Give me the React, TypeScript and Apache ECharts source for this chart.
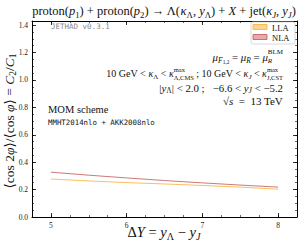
import React, { useEffect, useRef } from "react";
import * as echarts from "echarts";

const xValues = [5, 5.5, 6, 6.5, 7, 7.5, 8];
const nlaLow = [0.327, 0.305, 0.285, 0.266, 0.249, 0.233, 0.218];
const nlaHigh = [0.353, 0.331, 0.311, 0.292, 0.274, 0.258, 0.243];
const llaLow = [0.277, 0.263, 0.251, 0.241, 0.230, 0.218, 0.203];
const llaHigh = [0.292, 0.278, 0.266, 0.256, 0.245, 0.233, 0.218];
const xTickLabels = [5, 6, 7, 8];
const yTickLabels = [0, 0.2, 0.4, 0.6, 0.8, 1.0, 1.2, 1.4];
const legendNames = ["LLA", "NLA"];

const SERIF = "'Liberation Serif', 'DejaVu Serif', serif";
const MONO = "'DejaVu Sans Mono', 'Liberation Mono', monospace";

const NLA_EDGE = "#c25555";
const NLA_FILL = "#d48080";
const LLA_EDGE = "#f6b033";
const LLA_FILL = "#fbc866";

const Y_MAX = 1.43;
const GRID = { left: 32, right: 6, top: 21, bottom: 29 };

type Seg =
  | { t: string; k: "n" | "i" | "s" | "si" | "u" | "ss" }
  | { sup: string; sub: string; subItalic?: boolean };

let ctx: CanvasRenderingContext2D | null = null;
function measure(text: string, size: number, italic: boolean) {
  if (!ctx) ctx = document.createElement("canvas").getContext("2d");
  if (!ctx) return text.length * size * 0.5;
  ctx.font = `${italic ? "italic " : ""}${size}px ${SERIF}`;
  return ctx.measureText(text).width;
}

function mathText(
  segs: Seg[], x: number, y: number, size: number,
  align: "left" | "right" | "center", rotation = 0, fill = "#111"
) {
  const sub = size * 0.7;
  const stk = size * 0.65;
  const pieces: any[] = [];
  let cx = 0;
  const add = (t: string, fs: number, italic: boolean, dy: number, px: number) => {
    pieces.push({
      type: "text", x: px, y: dy,
      style: { text: t, fontFamily: SERIF, fontSize: fs, fontStyle: italic ? "italic" : "normal", fill, verticalAlign: "middle", align: "left" },
    });
  };
  for (const s of segs) {
    if ("sup" in s) {
      const w1 = measure(s.sup, stk, false);
      const w2 = measure(s.sub, stk, !!s.subItalic);
      add(s.sup, stk, false, -size * 0.42, cx);
      add(s.sub, stk, !!s.subItalic, size * 0.36, cx);
      cx += Math.max(w1, w2);
    } else {
      const fs = s.k === "ss" ? size * 0.5 : s.k === "n" || s.k === "i" ? size : sub;
      const italic = s.k === "i" || s.k === "si";
      const dy = s.k === "s" || s.k === "si" ? size * 0.3 : s.k === "ss" ? size * 0.45 : s.k === "u" ? -size * 0.36 : 0;
      add(s.t, fs, italic, dy, cx);
      cx += measure(s.t, fs, italic);
    }
  }
  const off = align === "left" ? 0 : align === "right" ? -cx : -cx / 2;
  pieces.forEach((p) => (p.x += off));
  return { type: "group", x, y, rotation, z: 10, children: pieces };
}

export default function App() {
  const ref = useRef<HTMLDivElement>(null);
  useEffect(() => {
    if (!ref.current) return;
    const chart = echarts.init(ref.current, undefined, { renderer: "svg" });
    const pair = (arr: number[]) => xValues.map((x, k) => [x, arr[k]]);
    const diff = (a: number[], b: number[]) => xValues.map((x, k) => [x, +(a[k] - b[k]).toFixed(4)]);
    const line = { show: true, onZero: false, lineStyle: { color: "#000", width: 1 } };
    const noLine = { show: false, onZero: false };
    const major = { show: true, inside: true, length: 4, lineStyle: { color: "#000", width: 0.8 } };
    const minor = { show: true, inside: true, length: 2, lineStyle: { color: "#000", width: 0.6 } };
    const xBase = { type: "value", min: 4.75, max: 8.25, splitLine: { show: false } };
    const yBase = { type: "value", min: 0, max: Y_MAX, splitLine: { show: false } };

    const baseGraphics: any[] = [
      mathText([
        { t: "proton(", k: "n" }, { t: "p", k: "i" }, { t: "1", k: "s" }, { t: ") + proton(", k: "n" },
        { t: "p", k: "i" }, { t: "2", k: "s" }, { t: ") → Λ(", k: "n" }, { t: "κ", k: "i" }, { t: "Λ", k: "s" },
        { t: ", ", k: "n" }, { t: "y", k: "i" }, { t: "Λ", k: "s" }, { t: ") + ", k: "n" }, { t: "X", k: "i" },
        { t: " + jet(", k: "n" }, { t: "κ", k: "i" }, { t: "J", k: "si" }, { t: ", ", k: "n" }, { t: "y", k: "i" },
        { t: "J", k: "si" }, { t: ")", k: "n" },
      ], 164, 11, 12.5, "center"),
      mathText([
        { t: "⟨cos 2", k: "n" }, { t: "φ", k: "i" }, { t: "⟩/⟨cos ", k: "n" }, { t: "φ", k: "i" },
        { t: "⟩ = ", k: "n" }, { t: "C", k: "i" }, { t: "2", k: "s" }, { t: "/", k: "n" }, { t: "C", k: "i" }, { t: "1", k: "s" },
      ], 9, 121, 13.5, "center", Math.PI / 2),
      mathText([
        { t: "Δ", k: "n" }, { t: "Y", k: "i" }, { t: " = ", k: "n" }, { t: "y", k: "i" }, { t: "Λ", k: "s" },
        { t: " − ", k: "n" }, { t: "y", k: "i" }, { t: "J", k: "si" },
      ], 164, 232, 14.5, "center"),
      mathText([
        { t: "μ", k: "i" }, { t: "F", k: "si" }, { t: "1,2", k: "ss" }, { t: " = ", k: "n" }, { t: "μ", k: "i" },
        { t: "R", k: "si" }, { t: " = ", k: "n" }, { t: "μ", k: "i" }, { sup: "BLM", sub: "R", subItalic: true },
      ], 283, 57, 10.8, "right"),
      mathText([
        { t: "10 GeV < ", k: "n" }, { t: "κ", k: "i" }, { t: "Λ", k: "s" }, { t: " < ", k: "n" }, { t: "κ", k: "i" },
        { sup: "max", sub: "Λ,CMS" }, { t: " ; 10 GeV < ", k: "n" }, { t: "κ", k: "i" }, { t: "J", k: "si" },
        { t: " < ", k: "n" }, { t: "κ", k: "i" }, { sup: "max", sub: "J,CST" },
      ], 283, 73.5, 10, "right"),
      mathText([
        { t: "|", k: "n" }, { t: "y", k: "i" }, { t: "Λ", k: "s" }, { t: "| < 2.0 ;   −6.6 < ", k: "n" },
        { t: "y", k: "i" }, { t: "J", k: "si" }, { t: " < −5.2", k: "n" },
      ], 283, 87.5, 10.8, "right"),
      mathText([
        { t: "√", k: "n" }, { t: "s", k: "i" }, { t: "  =  13 TeV", k: "n" },
      ], 283, 101, 11, "right"),
      {
        type: "text", x: 51, y: 26, z: 10,
        style: { text: "JETHAD v0.3.1", fontFamily: MONO, fontSize: 7.5, fill: "#8a8a8a", verticalAlign: "middle" },
      },
      {
        type: "text", x: 48, y: 109, z: 10,
        style: { text: "MOM scheme", fontFamily: SERIF, fontSize: 10.5, fill: "#111", verticalAlign: "middle" },
      },
      {
        type: "text", x: 48, y: 122, z: 10,
        style: { text: "MMHT2014nlo + AKK2008nlo", fontFamily: MONO, fontSize: 7.4, fill: "#111", verticalAlign: "middle" },
      },
      {
        type: "rect", z: 10, shape: { x: 251, y: 22, width: 44, height: 22, r: 2 },
        style: { fill: "#fff", stroke: "#cfcfcf", lineWidth: 0.8 },
      },
      {
        type: "rect", z: 11, shape: { x: 253, y: 24.5, width: 14, height: 5 },
        style: { fill: "#fdd592", stroke: LLA_EDGE, lineWidth: 0.8 },
      },
      {
        type: "rect", z: 11, shape: { x: 253, y: 34.5, width: 14, height: 5 },
        style: { fill: "#e6aaaa", stroke: NLA_EDGE, lineWidth: 0.8 },
      },
      {
        type: "text", x: 272, y: 27.5, z: 11,
        style: { text: legendNames[0], fontFamily: SERIF, fontSize: 8.5, fill: "#111", verticalAlign: "middle" },
      },
      {
        type: "text", x: 272, y: 37.5, z: 11,
        style: { text: legendNames[1], fontFamily: SERIF, fontSize: 8.5, fill: "#111", verticalAlign: "middle" },
      },
    ];

    chart.setOption({
      animation: false,
      grid: GRID,
      xAxis: [
        {
          ...xBase, position: "bottom", axisLine: line,
          axisTick: { ...major, customValues: xTickLabels },
          axisLabel: { show: true, customValues: xTickLabels, fontFamily: SERIF, fontSize: 7.5, color: "#222", margin: 4 },
        },
        { ...xBase, position: "bottom", interval: 0.25, axisLine: noLine, axisTick: minor, axisLabel: { show: false } },
        {
          ...xBase, position: "top", axisLine: line,
          axisTick: { ...major, customValues: xTickLabels }, axisLabel: { show: false },
        },
        { ...xBase, position: "top", interval: 0.25, axisLine: noLine, axisTick: minor, axisLabel: { show: false } },
      ],
      yAxis: [
        {
          ...yBase, position: "left", axisLine: line,
          axisTick: { ...major, customValues: yTickLabels }, axisLabel: { show: false },
        },
        { ...yBase, position: "left", interval: 0.05, axisLine: noLine, axisTick: minor, axisLabel: { show: false } },
        {
          ...yBase, position: "right", axisLine: line,
          axisTick: { ...major, customValues: yTickLabels }, axisLabel: { show: false },
        },
        { ...yBase, position: "right", interval: 0.05, axisLine: noLine, axisTick: minor, axisLabel: { show: false } },
      ],
      series: [
        {
          type: "line", name: "LLA_low", stack: "lla", data: pair(llaLow), symbol: "none",
          lineStyle: { color: LLA_EDGE, width: 0.8 }, z: 2,
        },
        {
          type: "line", name: legendNames[0], stack: "lla", data: diff(llaHigh, llaLow), symbol: "none",
          lineStyle: { color: LLA_EDGE, width: 0.8 }, areaStyle: { color: LLA_FILL, opacity: 1 }, z: 2,
        },
        {
          type: "line", name: "NLA_low", stack: "nla", data: pair(nlaLow), symbol: "none",
          lineStyle: { color: NLA_EDGE, width: 0.8 }, z: 3,
        },
        {
          type: "line", name: legendNames[1], stack: "nla", data: diff(nlaHigh, nlaLow), symbol: "none",
          lineStyle: { color: NLA_EDGE, width: 0.8 }, areaStyle: { color: NLA_FILL, opacity: 1 }, z: 3,
        },
      ],
      graphic: baseGraphics,
    });

    // y tick labels, positioned through the chart's own y scale
    const plotH = 246 - GRID.top - GRID.bottom;
    const yLabelGraphics = yTickLabels.map((v) => {
      let py: number = NaN;
      try {
        const p: any = chart.convertToPixel({ seriesIndex: 0 } as any, [xValues[0], v]);
        py = Array.isArray(p) ? Number(p[1]) : Number(p);
      } catch (e) {
        py = NaN;
      }
      if (!isFinite(py)) py = GRID.top + plotH * (1 - v / Y_MAX);
      return {
        type: "text", x: 28, y: py, z: 12,
        style: { text: v.toFixed(1), fontFamily: SERIF, fontSize: 7.5, fill: "#222", align: "right", verticalAlign: "middle" },
      };
    });
    chart.setOption({ graphic: [...baseGraphics, ...yLabelGraphics] });

    return () => chart.dispose();
  }, []);
  return (
    <div
      ref={ref}
      style={{ position: "absolute", left: 0, top: 0, width: 303, height: 246 }}
    />
  );
}
